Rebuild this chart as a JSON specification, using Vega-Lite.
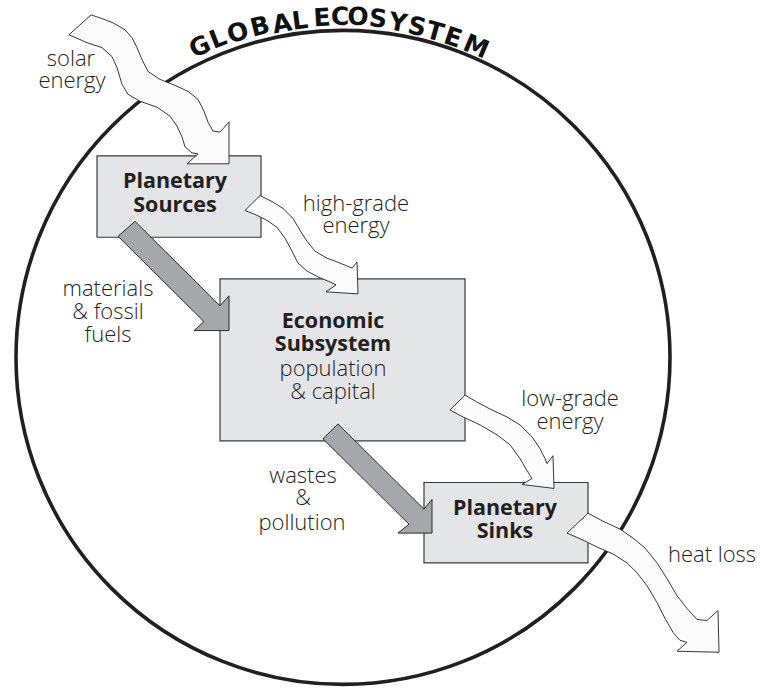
{
  "$schema": "https://vega.github.io/schema/vega-lite/v6.json",
  "width": 764,
  "height": 690,
  "autosize": {"type": "fit", "contains": "padding"},
  "padding": 0,
  "background": "white",
  "config": {"view": {"stroke": null}},
  "datasets": {
    "circle": [{"name": "Global Ecosystem", "x": 343, "y": 360}],
    "boxes": [
      {"name": "Planetary Sources", "x": 97, "x2": 261, "y": 157, "y2": 239},
      {"name": "Economic Subsystem", "x": 220, "x2": 465, "y": 281, "y2": 444},
      {"name": "Planetary Sinks", "x": 424, "x2": 588, "y": 486, "y2": 567}
    ],
    "arrows": [
      {"id": "solar", "kind": "energy", "i": 0, "x": 69, "y": 35},
      {"id": "solar", "kind": "energy", "i": 1, "x": 91, "y": 15},
      {"id": "solar", "kind": "energy", "i": 2, "x": 100, "y": 18},
      {"id": "solar", "kind": "energy", "i": 3, "x": 113, "y": 23},
      {"id": "solar", "kind": "energy", "i": 4, "x": 125, "y": 30},
      {"id": "solar", "kind": "energy", "i": 5, "x": 132, "y": 38},
      {"id": "solar", "kind": "energy", "i": 6, "x": 137, "y": 48},
      {"id": "solar", "kind": "energy", "i": 7, "x": 142, "y": 60},
      {"id": "solar", "kind": "energy", "i": 8, "x": 148, "y": 72},
      {"id": "solar", "kind": "energy", "i": 9, "x": 160, "y": 80},
      {"id": "solar", "kind": "energy", "i": 10, "x": 175, "y": 86},
      {"id": "solar", "kind": "energy", "i": 11, "x": 188, "y": 92},
      {"id": "solar", "kind": "energy", "i": 12, "x": 198, "y": 100},
      {"id": "solar", "kind": "energy", "i": 13, "x": 204, "y": 112},
      {"id": "solar", "kind": "energy", "i": 14, "x": 208, "y": 123},
      {"id": "solar", "kind": "energy", "i": 15, "x": 213, "y": 132},
      {"id": "solar", "kind": "energy", "i": 16, "x": 220, "y": 133},
      {"id": "solar", "kind": "energy", "i": 17, "x": 229, "y": 123},
      {"id": "solar", "kind": "energy", "i": 18, "x": 229, "y": 165},
      {"id": "solar", "kind": "energy", "i": 19, "x": 187, "y": 165},
      {"id": "solar", "kind": "energy", "i": 20, "x": 198, "y": 155},
      {"id": "solar", "kind": "energy", "i": 21, "x": 192, "y": 154},
      {"id": "solar", "kind": "energy", "i": 22, "x": 185, "y": 148},
      {"id": "solar", "kind": "energy", "i": 23, "x": 182, "y": 138},
      {"id": "solar", "kind": "energy", "i": 24, "x": 177, "y": 127},
      {"id": "solar", "kind": "energy", "i": 25, "x": 170, "y": 117},
      {"id": "solar", "kind": "energy", "i": 26, "x": 157, "y": 108},
      {"id": "solar", "kind": "energy", "i": 27, "x": 140, "y": 102},
      {"id": "solar", "kind": "energy", "i": 28, "x": 128, "y": 95},
      {"id": "solar", "kind": "energy", "i": 29, "x": 122, "y": 85},
      {"id": "solar", "kind": "energy", "i": 30, "x": 117, "y": 68},
      {"id": "solar", "kind": "energy", "i": 31, "x": 112, "y": 57},
      {"id": "solar", "kind": "energy", "i": 32, "x": 102, "y": 48},
      {"id": "solar", "kind": "energy", "i": 33, "x": 87, "y": 43},
      {"id": "solar", "kind": "energy", "i": 34, "x": 69, "y": 35},

      {"id": "high", "kind": "energy", "i": 0, "x": 245, "y": 212},
      {"id": "high", "kind": "energy", "i": 1, "x": 260, "y": 197},
      {"id": "high", "kind": "energy", "i": 2, "x": 272, "y": 203},
      {"id": "high", "kind": "energy", "i": 3, "x": 283, "y": 210},
      {"id": "high", "kind": "energy", "i": 4, "x": 293, "y": 220},
      {"id": "high", "kind": "energy", "i": 5, "x": 300, "y": 232},
      {"id": "high", "kind": "energy", "i": 6, "x": 307, "y": 243},
      {"id": "high", "kind": "energy", "i": 7, "x": 315, "y": 253},
      {"id": "high", "kind": "energy", "i": 8, "x": 327, "y": 260},
      {"id": "high", "kind": "energy", "i": 9, "x": 340, "y": 265},
      {"id": "high", "kind": "energy", "i": 10, "x": 352, "y": 270},
      {"id": "high", "kind": "energy", "i": 11, "x": 357, "y": 264},
      {"id": "high", "kind": "energy", "i": 12, "x": 358, "y": 296},
      {"id": "high", "kind": "energy", "i": 13, "x": 326, "y": 294},
      {"id": "high", "kind": "energy", "i": 14, "x": 336, "y": 287},
      {"id": "high", "kind": "energy", "i": 15, "x": 330, "y": 284},
      {"id": "high", "kind": "energy", "i": 16, "x": 318, "y": 279},
      {"id": "high", "kind": "energy", "i": 17, "x": 307, "y": 273},
      {"id": "high", "kind": "energy", "i": 18, "x": 298, "y": 265},
      {"id": "high", "kind": "energy", "i": 19, "x": 292, "y": 253},
      {"id": "high", "kind": "energy", "i": 20, "x": 285, "y": 240},
      {"id": "high", "kind": "energy", "i": 21, "x": 277, "y": 229},
      {"id": "high", "kind": "energy", "i": 22, "x": 267, "y": 222},
      {"id": "high", "kind": "energy", "i": 23, "x": 255, "y": 216},
      {"id": "high", "kind": "energy", "i": 24, "x": 245, "y": 212},

      {"id": "low", "kind": "energy", "i": 0, "x": 450, "y": 413},
      {"id": "low", "kind": "energy", "i": 1, "x": 465, "y": 398},
      {"id": "low", "kind": "energy", "i": 2, "x": 477, "y": 405},
      {"id": "low", "kind": "energy", "i": 3, "x": 490, "y": 412},
      {"id": "low", "kind": "energy", "i": 4, "x": 507, "y": 420},
      {"id": "low", "kind": "energy", "i": 5, "x": 520, "y": 428},
      {"id": "low", "kind": "energy", "i": 6, "x": 532, "y": 440},
      {"id": "low", "kind": "energy", "i": 7, "x": 540, "y": 452},
      {"id": "low", "kind": "energy", "i": 8, "x": 545, "y": 462},
      {"id": "low", "kind": "energy", "i": 9, "x": 547, "y": 467},
      {"id": "low", "kind": "energy", "i": 10, "x": 553, "y": 459},
      {"id": "low", "kind": "energy", "i": 11, "x": 554, "y": 492},
      {"id": "low", "kind": "energy", "i": 12, "x": 522, "y": 488},
      {"id": "low", "kind": "energy", "i": 13, "x": 532, "y": 482},
      {"id": "low", "kind": "energy", "i": 14, "x": 527, "y": 474},
      {"id": "low", "kind": "energy", "i": 15, "x": 520, "y": 462},
      {"id": "low", "kind": "energy", "i": 16, "x": 510, "y": 448},
      {"id": "low", "kind": "energy", "i": 17, "x": 497, "y": 438},
      {"id": "low", "kind": "energy", "i": 18, "x": 480, "y": 428},
      {"id": "low", "kind": "energy", "i": 19, "x": 463, "y": 420},
      {"id": "low", "kind": "energy", "i": 20, "x": 450, "y": 413},

      {"id": "heat", "kind": "energy", "i": 0, "x": 567, "y": 537},
      {"id": "heat", "kind": "energy", "i": 1, "x": 588, "y": 517},
      {"id": "heat", "kind": "energy", "i": 2, "x": 603, "y": 525},
      {"id": "heat", "kind": "energy", "i": 3, "x": 620, "y": 533},
      {"id": "heat", "kind": "energy", "i": 4, "x": 633, "y": 542},
      {"id": "heat", "kind": "energy", "i": 5, "x": 645, "y": 552},
      {"id": "heat", "kind": "energy", "i": 6, "x": 657, "y": 567},
      {"id": "heat", "kind": "energy", "i": 7, "x": 667, "y": 583},
      {"id": "heat", "kind": "energy", "i": 8, "x": 677, "y": 600},
      {"id": "heat", "kind": "energy", "i": 9, "x": 687, "y": 613},
      {"id": "heat", "kind": "energy", "i": 10, "x": 697, "y": 624},
      {"id": "heat", "kind": "energy", "i": 11, "x": 707, "y": 625},
      {"id": "heat", "kind": "energy", "i": 12, "x": 718, "y": 615},
      {"id": "heat", "kind": "energy", "i": 13, "x": 719, "y": 657},
      {"id": "heat", "kind": "energy", "i": 14, "x": 677, "y": 656},
      {"id": "heat", "kind": "energy", "i": 15, "x": 687, "y": 647},
      {"id": "heat", "kind": "energy", "i": 16, "x": 680, "y": 645},
      {"id": "heat", "kind": "energy", "i": 17, "x": 673, "y": 637},
      {"id": "heat", "kind": "energy", "i": 18, "x": 665, "y": 623},
      {"id": "heat", "kind": "energy", "i": 19, "x": 657, "y": 607},
      {"id": "heat", "kind": "energy", "i": 20, "x": 647, "y": 590},
      {"id": "heat", "kind": "energy", "i": 21, "x": 637, "y": 577},
      {"id": "heat", "kind": "energy", "i": 22, "x": 627, "y": 567},
      {"id": "heat", "kind": "energy", "i": 23, "x": 613, "y": 558},
      {"id": "heat", "kind": "energy", "i": 24, "x": 597, "y": 551},
      {"id": "heat", "kind": "energy", "i": 25, "x": 583, "y": 544},
      {"id": "heat", "kind": "energy", "i": 26, "x": 567, "y": 537},

      {"id": "materials", "kind": "matter", "i": 0, "x": 118, "y": 238},
      {"id": "materials", "kind": "matter", "i": 1, "x": 135, "y": 223},
      {"id": "materials", "kind": "matter", "i": 2, "x": 220, "y": 308},
      {"id": "materials", "kind": "matter", "i": 3, "x": 229, "y": 298},
      {"id": "materials", "kind": "matter", "i": 4, "x": 229, "y": 333},
      {"id": "materials", "kind": "matter", "i": 5, "x": 194, "y": 333},
      {"id": "materials", "kind": "matter", "i": 6, "x": 204, "y": 324},
      {"id": "materials", "kind": "matter", "i": 7, "x": 118, "y": 238},

      {"id": "wastes", "kind": "matter", "i": 0, "x": 323, "y": 442},
      {"id": "wastes", "kind": "matter", "i": 1, "x": 338, "y": 427},
      {"id": "wastes", "kind": "matter", "i": 2, "x": 424, "y": 513},
      {"id": "wastes", "kind": "matter", "i": 3, "x": 432, "y": 503},
      {"id": "wastes", "kind": "matter", "i": 4, "x": 432, "y": 537},
      {"id": "wastes", "kind": "matter", "i": 5, "x": 398, "y": 537},
      {"id": "wastes", "kind": "matter", "i": 6, "x": 409, "y": 528},
      {"id": "wastes", "kind": "matter", "i": 7, "x": 323, "y": 442}
    ],
    "boxTitles": [
      {"text": "Planetary", "x": 175, "y": 183},
      {"text": "Sources", "x": 175, "y": 207},
      {"text": "Economic", "x": 333, "y": 324},
      {"text": "Subsystem", "x": 333, "y": 348},
      {"text": "Planetary", "x": 505, "y": 513},
      {"text": "Sinks", "x": 505, "y": 536}
    ],
    "labels": [
      {"text": "solar", "x": 71, "y": 59},
      {"text": "energy", "x": 72, "y": 82},
      {"text": "high-grade", "x": 356, "y": 205},
      {"text": "energy", "x": 356, "y": 228},
      {"text": "materials", "x": 108, "y": 291},
      {"text": "& fossil", "x": 108, "y": 314},
      {"text": "fuels", "x": 108, "y": 337},
      {"text": "population", "x": 333, "y": 372},
      {"text": "& capital", "x": 333, "y": 395},
      {"text": "low-grade", "x": 570, "y": 402},
      {"text": "energy", "x": 570, "y": 425},
      {"text": "wastes", "x": 303, "y": 479},
      {"text": "&", "x": 303, "y": 502},
      {"text": "pollution", "x": 302, "y": 527},
      {"text": "heat loss", "x": 712, "y": 559}
    ],
    "title": [
      {"ch": "G", "x": 200, "y": 47, "rot": -24.6},
      {"ch": "L", "x": 218, "y": 39, "rot": -21.3},
      {"ch": "O", "x": 238, "y": 33, "rot": -17.8},
      {"ch": "B", "x": 260, "y": 27, "rot": -14.0},
      {"ch": "A", "x": 282, "y": 24, "rot": -10.3},
      {"ch": "L", "x": 300, "y": 21, "rot": -7.2},
      {"ch": "E", "x": 322, "y": 18, "rot": -3.5},
      {"ch": "C", "x": 340, "y": 17, "rot": -0.5},
      {"ch": "O", "x": 358, "y": 17, "rot": 2.5},
      {"ch": "S", "x": 378, "y": 19, "rot": 5.9},
      {"ch": "Y", "x": 398, "y": 23, "rot": 9.3},
      {"ch": "S", "x": 417, "y": 27, "rot": 12.5},
      {"ch": "T", "x": 435, "y": 32, "rot": 15.7},
      {"ch": "E", "x": 453, "y": 38, "rot": 18.9},
      {"ch": "M", "x": 476, "y": 47, "rot": 23.0}
    ]
  },
  "encoding": {
    "x": {"field": "x", "type": "quantitative", "scale": {"domain": [0, 764], "nice": false, "zero": false}, "axis": null},
    "y": {"field": "y", "type": "quantitative", "scale": {"domain": [690, 0], "nice": false, "zero": false}, "axis": null}
  },
  "layer": [
    {
      "data": {"name": "circle"},
      "mark": {"type": "point", "shape": "circle", "size": 427716, "filled": false, "stroke": "#231f20", "strokeWidth": 3.6, "opacity": 1}
    },
    {
      "data": {"name": "boxes"},
      "mark": {"type": "rect", "fill": "#e4e5e7", "stroke": "#3a3a3a", "strokeWidth": 1.2},
      "encoding": {
        "x2": {"field": "x2"},
        "y2": {"field": "y2"}
      }
    },
    {
      "data": {"name": "arrows"},
      "transform": [{"filter": "datum.kind === 'energy'"}],
      "mark": {"type": "line", "fill": "#fbfbfb", "stroke": "#231f20", "strokeWidth": 0.9, "strokeJoin": "miter", "interpolate": "linear"},
      "encoding": {
        "detail": {"field": "id"},
        "order": {"field": "i", "type": "quantitative"}
      }
    },
    {
      "data": {"name": "arrows"},
      "transform": [{"filter": "datum.kind === 'matter'"}],
      "mark": {"type": "line", "fill": "#a6a7aa", "stroke": "#2b2b2b", "strokeWidth": 1, "strokeJoin": "miter", "interpolate": "linear"},
      "encoding": {
        "detail": {"field": "id"},
        "order": {"field": "i", "type": "quantitative"}
      }
    },
    {
      "data": {"name": "boxTitles"},
      "mark": {"type": "text", "font": "Open Sans", "fontWeight": 700, "fontSize": 21.5, "color": "#231f20", "align": "center", "baseline": "middle"},
      "encoding": {"text": {"field": "text"}}
    },
    {
      "data": {"name": "labels"},
      "mark": {"type": "text", "font": "Open Sans", "fontWeight": 300, "fontSize": 22, "color": "#231f20", "align": "center", "baseline": "middle"},
      "encoding": {"text": {"field": "text"}}
    },
    {
      "data": {"name": "title"},
      "mark": {"type": "text", "font": "DejaVu Sans", "fontWeight": "bold", "fontSize": 25, "color": "#111111", "align": "center", "baseline": "middle"},
      "encoding": {
        "text": {"field": "ch"},
        "angle": {"field": "rot", "type": "quantitative", "scale": null}
      }
    }
  ]
}
